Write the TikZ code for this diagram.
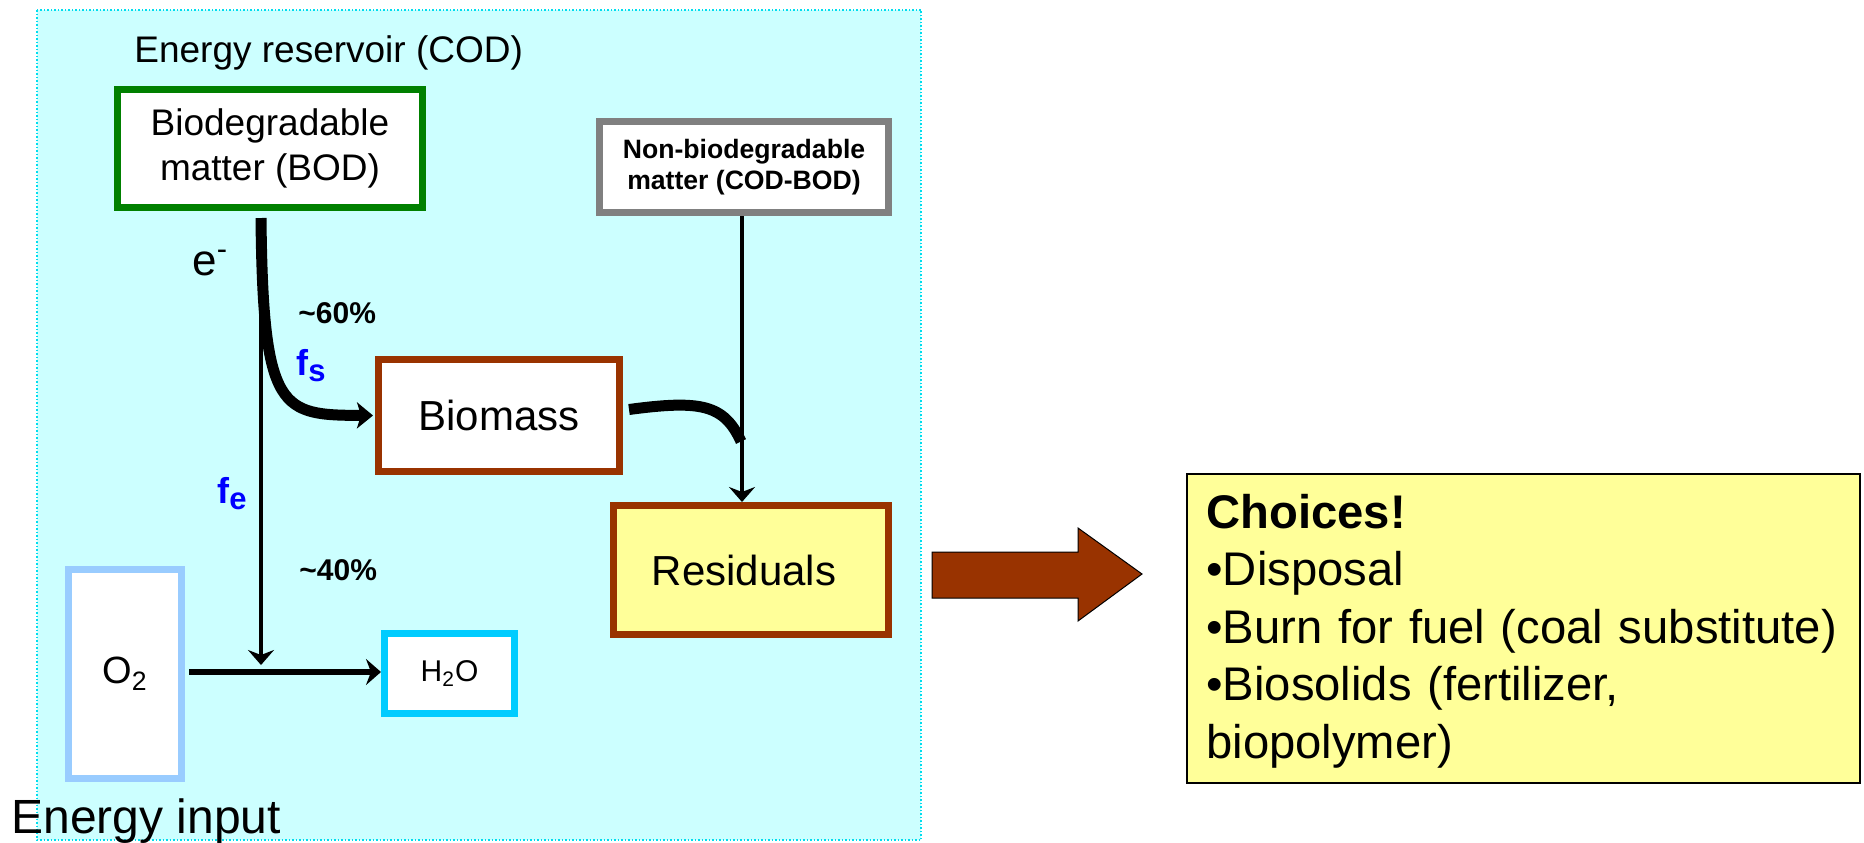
\documentclass[tikz,border=0pt]{standalone}
\usepackage{fontspec}
\setmainfont{Liberation Sans}
\usetikzlibrary{arrows.meta,calc}
\definecolor{reservoir}{HTML}{CCFFFF}
\definecolor{reservoirline}{HTML}{00DDEE}
\definecolor{bodgreen}{HTML}{008000}
\definecolor{codgray}{HTML}{808080}
\definecolor{sludge}{HTML}{993300}
\definecolor{paleyellow}{HTML}{FFFF99}
\definecolor{oxyblue}{HTML}{99CCFF}
\definecolor{waterblue}{HTML}{00CCFF}
\newcommand{\fsz}[2]{\fontsize{#1}{#2}\selectfont}

\begin{document}
\begin{tikzpicture}[x=0.5pt,y=-0.5pt,
  box/.style={draw, line width=3.5pt, fill=white, inner sep=0pt, align=center},
  tag/.style={inner sep=0pt, anchor=base west},
  fraction/.style={tag, text=blue, font=\bfseries\fsz{18}{20}},
  flow/.style={line width=2.25pt, -{Stealth[length=7.5pt,width=13pt,inset=2.5pt]}},
  bigflow/.style={line width=5.5pt, line cap=butt}]
\useasboundingbox (0,0) rectangle (1864,842);
% energy reservoir
\fill[reservoir] (37,10) rectangle (921,840);
\draw[reservoirline, densely dotted, line width=0.75pt] (37,10) rectangle (921,840);
\node[tag, font=\fsz{18.5}{22}] (title) at (134,62) {Energy reservoir (COD)};
% boxes
\node[box, draw=bodgreen, minimum width=152.5pt, minimum height=59pt, font=\fsz{18.5}{22.5}] (bod) at (270,148.5) {Biodegradable\\matter (BOD)};
\node[box, draw=codgray, minimum width=144.5pt, minimum height=45.5pt, font=\bfseries\fsz{13.3}{15.5}] (nbod) at (744,167) {Non-biodegradable\\matter (COD-BOD)};
\node[box, draw=sludge, minimum width=120.5pt, minimum height=56pt, font=\fsz{21}{24}] (biomass) at (499,415.5) {Biomass};
\node[box, draw=sludge, fill=paleyellow, minimum width=137.5pt, minimum height=64.5pt, font=\fsz{21}{24}] (resid) at (751,570) {Residuals\kern7pt};
\node[box, draw=oxyblue, minimum width=56.5pt, minimum height=104.5pt, font=\fsz{19}{22}] (o2) at (125,674) {O\textsubscript{2}};
\node[box, draw=waterblue, minimum width=65pt, minimum height=40pt, font=\fsz{15}{18}] (h2o) at (449.5,673.5) {H\textsubscript{2}O};
% labels
\node[tag, font=\fsz{22}{24}] (elec) at (192,275) {e\textsuperscript{-}};
\node[tag, font=\bfseries\fsz{15}{18}] (pct60) at (298,323) {\textasciitilde 60\%};
\node[fraction] (fs) at (296,375) {f\raisebox{-3pt}{\fsz{15.5}{16}s}};
\node[fraction] (fe) at (217,503) {f\raisebox{-3pt}{\fsz{15.5}{16}e}};
\node[tag, font=\bfseries\fsz{15}{18}] (pct40) at (299,580) {\textasciitilde 40\%};
\node[tag, font=\fsz{24}{28}] (input) at (11,833) {Energy input};
% electron flows
\coordinate (split) at ($(bod.south)+(-9,7)$);
\draw[bigflow, -{Stealth[length=8pt,width=13pt,inset=2pt]}] (split) .. controls ($(split)+(2,195)$) and ($(split)+(20,197)$) .. ($(biomass.west)+(-2,0)$);
\draw[flow] (split) -- ($(split |- o2.east)+(0,-9)$);
\draw[flow, line width=2.75pt] ($(o2.east)+(4,-2)$) -- ($(h2o.west)+(0,-1.5)$);
\draw[flow] ($(nbod.south)+(-2,0)$) -- ($(nbod.south |- resid.north)+(-2,0)$);
\coordinate (merge) at ($(nbod.south |- biomass.east)+(-3,26)$);
\draw[bigflow] ($(biomass.east)+(6,-6)$) .. controls (700,400) and (724,404) .. (merge);
% outcome
\filldraw[fill=sludge, draw=black, line width=0.5pt] (932,552) -- (1078,552) -- (1078,528) -- (1142,574) -- (1078,621) -- (1078,598) -- (932,598) -- cycle;
\node[box, draw=black, line width=1pt, fill=paleyellow, minimum width=336.5pt, minimum height=154.5pt] (choices) at (1523.5,628.5) {};
\node[tag, text width=330pt, align=left, font=\fsz{23.6}{28.75}] (options) at (1206,528) {\textbf{Choices!}\\\textbullet Disposal\\\textbullet Burn for fuel (coal substitute)\\\textbullet Biosolids (fertilizer,\\biopolymer)};
\end{tikzpicture}
\end{document}
